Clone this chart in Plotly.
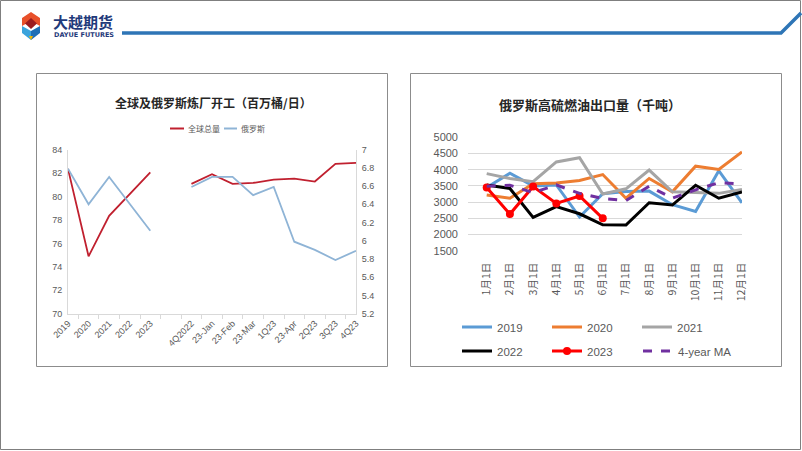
import plotly.graph_objects as go

W, H = 802, 451

# ---------------- data: left chart ----------------
annual = ["2019", "2020", "2021", "2022", "2023"]
quarterly = ["4Q2022", "23-Jan", "23-Feb", "23-Mar", "1Q23", "23-Apr", "2Q23", "3Q23", "4Q23"]
global_annual = [82.35, 74.9, 78.35, 80.2, 82.05]
global_q = [81.07, 81.9, 81.07, 81.15, 81.44, 81.52, 81.27, 82.78, 82.86]
russia_annual = [6.79, 6.40, 6.70, 6.41, 6.11]
russia_q = [6.59, 6.70, 6.70, 6.50, 6.59, 5.99, 5.90, 5.79, 5.89]
left_names = ["全球总量", "俄罗斯"]

# ---------------- data: right chart ----------------
months = ["1月1日", "2月1日", "3月1日", "4月1日", "5月1日", "6月1日",
          "7月1日", "8月1日", "9月1日", "10月1日", "11月1日", "12月1日"]
y2019 = [3450, 3890, 3500, 3530, 2540, 3260, 3330, 3340, 2920, 2710, 3970, 2980]
y2020 = [3220, 3120, 3570, 3590, 3670, 3850, 3120, 3730, 3320, 4110, 4010, 4550]
y2021 = [3880, 3730, 3630, 4240, 4370, 3250, 3410, 3990, 3320, 3300, 3270, 3390]
y2022 = [3530, 3420, 2530, 2860, 2640, 2300, 2290, 2980, 2910, 3520, 3120, 3310]
y2023 = [3450, 2630, 3480, 2960, 3190, 2500]
ma4 = [3490, 3520, 3290, 3530, 3270, 3110, 3050, 3490, 3120, 3380, 3600, 3560]


def px(x):
    return x / W


def py(y):
    return 1 - y / H


fig = go.Figure()

# ---------- left chart traces ----------
xcats = annual + [" "] + quarterly
fig.add_trace(go.Scatter(
    x=xcats, y=global_annual + [None] + global_q, name=left_names[0],
    mode="lines", line=dict(color="#C0202F", width=1.8), xaxis="x", yaxis="y",
    showlegend=False))
fig.add_trace(go.Scatter(
    x=xcats, y=russia_annual + [None] + russia_q, name=left_names[1],
    mode="lines", line=dict(color="#8FB4D6", width=1.8), xaxis="x", yaxis="y2",
    showlegend=False))

# ---------- right chart traces ----------
series = [
    ("2019", y2019, "#5B9BD5", "solid", "legend2"),
    ("2020", y2020, "#ED7D31", "solid", "legend2"),
    ("2021", y2021, "#A5A5A5", "solid", "legend2"),
    ("2022", y2022, "#000000", "solid", "legend3"),
]
for name, vals, col, dash, lg in series:
    fig.add_trace(go.Scatter(x=months, y=vals, name=name, mode="lines",
                             line=dict(color=col, width=3, dash=dash),
                             xaxis="x3", yaxis="y3", legend=lg))
fig.add_trace(go.Scatter(x=months[:len(y2023)], y=y2023, name="2023", mode="lines+markers",
                         line=dict(color="#FF0000", width=3),
                         marker=dict(color="#FF0000", size=8),
                         xaxis="x3", yaxis="y3", legend="legend3"))
fig.add_trace(go.Scatter(x=months, y=ma4, name="4-year MA", mode="lines",
                         line=dict(color="#7030A0", width=3, dash="dash"),
                         xaxis="x3", yaxis="y3", legend="legend4"))

tick_font_left = dict(family="Liberation Sans Narrow, Arial Narrow, sans-serif", size=9, color="#595959")
axis_grey = "#D9D9D9"

# ---------- shapes ----------
shapes = []
# slide border
shapes.append(dict(type="rect", xref="paper", yref="paper",
                   x0=px(0.5), x1=px(800.5), y0=py(0.5), y1=py(449.5),
                   line=dict(color="#7F7F7F", width=1)))
# header line
shapes.append(dict(type="path", xref="paper", yref="paper",
                   path=f"M {px(122)} {py(33)} L {px(781)} {py(33)} L {px(801)} {py(13)}",
                   line=dict(color="#2E75B6", width=3.5)))
# chart boxes
for (x0, x1) in [(36.5, 387.5), (410.5, 781.5)]:
    shapes.append(dict(type="rect", xref="paper", yref="paper",
                       x0=px(x0), x1=px(x1), y0=py(73.5), y1=py(366.5),
                       line=dict(color="#8C8C8C", width=1)))


def poly(pts, color):
    d = "M " + " L ".join(f"{px(a)} {py(b)}" for a, b in pts) + " Z"
    return dict(type="path", xref="paper", yref="paper", path=d,
                fillcolor=color, line=dict(width=0))


# logo
shapes.append(poly([(31, 12), (40, 18), (40, 26), (31, 21), (22, 26), (22, 18)], "#E8502A"))
shapes.append(poly([(31, 18), (37, 23.5), (31, 29), (25, 23.5)], "#9B1B1F"))
shapes.append(poly([(22, 26), (31, 31), (31, 40), (22, 33)], "#3BA3DC"))
shapes.append(poly([(40, 26), (31, 31), (31, 40), (40, 33)], "#1F6FB5"))
shapes.append(poly([(29, 36), (33, 36), (31, 40)], "#F5B800"))

# left legend (manual, small samples)
shapes.append(dict(type="line", xref="paper", yref="paper",
                   x0=px(170), x1=px(184), y0=py(128.5), y1=py(128.5),
                   line=dict(color="#C0202F", width=2)))
shapes.append(dict(type="line", xref="paper", yref="paper",
                   x0=px(224), x1=px(237), y0=py(128.5), y1=py(128.5),
                   line=dict(color="#8FB4D6", width=2)))

annotations = [
    dict(text="大越期货", x=px(51), y=py(21.5), xref="paper", yref="paper",
         xanchor="left", yanchor="middle", showarrow=False,
         font=dict(family="Noto Sans CJK SC", size=15, color="#1F3A7A", weight="bold")),
    dict(text="DAYUE FUTURES", x=px(52), y=py(34.5), xref="paper", yref="paper",
         xanchor="left", yanchor="middle", showarrow=False,
         font=dict(family="DejaVu Sans", size=6.5, color="#1F3A7A", weight="bold")),
    dict(text="全球及俄罗斯炼厂开工（百万桶/日）", x=px(214), y=py(102), xref="paper", yref="paper",
         xanchor="center", yanchor="middle", showarrow=False,
         font=dict(family="Noto Sans CJK SC", size=12, color="#262626", weight="bold")),
    dict(text=left_names[0], x=px(186), y=py(128.5), xref="paper", yref="paper",
         xanchor="left", yanchor="middle", showarrow=False,
         font=dict(family="Noto Sans CJK SC", size=8, color="#595959")),
    dict(text=left_names[1], x=px(239), y=py(128.5), xref="paper", yref="paper",
         xanchor="left", yanchor="middle", showarrow=False,
         font=dict(family="Noto Sans CJK SC", size=8, color="#595959")),
    dict(text="俄罗斯高硫燃油出口量（千吨）", x=px(590), y=py(105), xref="paper", yref="paper",
         xanchor="center", yanchor="middle", showarrow=False,
         font=dict(family="Noto Sans CJK SC", size=13, color="#262626", weight="bold")),
]

legend_common = dict(orientation="h", xanchor="left", yanchor="middle",
                     entrywidth=45, entrywidthmode="pixels", itemwidth=30,
                     bgcolor="rgba(0,0,0,0)", borderwidth=0,
                     font=dict(family="Liberation Sans", size=11.5, color="#595959"),
                     tracegroupgap=0)
legend_ma = dict(legend_common)
legend_ma.pop("entrywidth")
legend_ma.pop("entrywidthmode")

fig.update_layout(
    width=W, height=H,
    margin=dict(l=0, r=0, t=0, b=0, autoexpand=False),
    paper_bgcolor="white", plot_bgcolor="rgba(0,0,0,0)",
    shapes=shapes, annotations=annotations,
    showlegend=True,
    legend2=dict(x=px(457), y=py(327), **legend_common),
    legend3=dict(x=px(457), y=py(351), **legend_common),
    legend4=dict(x=px(638), y=py(351), **legend_ma),
    xaxis=dict(domain=[px(68), px(356)], type="category",
               categoryorder="array", categoryarray=xcats,
               tickangle=-45, tickfont=tick_font_left,
               showline=True, linecolor=axis_grey, linewidth=1,
               ticks="outside", tickson="boundaries", ticklen=4, tickcolor=axis_grey,
               showgrid=False, zeroline=False, anchor="y", fixedrange=True),
    yaxis=dict(domain=[py(313.8), py(149.5)], range=[70, 84], dtick=2, tick0=70,
               tickfont=tick_font_left, showline=True, linecolor=axis_grey,
               showgrid=False, zeroline=False, ticks="", ticklabelstandoff=3,
               anchor="x"),
    yaxis2=dict(overlaying="y", side="right", range=[5.2, 7.0005], dtick=0.2, tick0=5.2,
                tickfont=tick_font_left, showline=True, linecolor=axis_grey,
                showgrid=False, zeroline=False, ticks="", ticklabelstandoff=3,
                anchor="x"),
    xaxis3=dict(domain=[px(468), px(742)], type="category",
                categoryorder="array", categoryarray=months,
                tickangle=-90,
                tickfont=dict(family="Noto Sans CJK SC", size=10.5, color="#595959"),
                showline=False, showgrid=False, zeroline=False, ticks="",
                ticklabelstandoff=9, anchor="y3"),
    yaxis3=dict(domain=[py(250.7), py(137.3)], range=[1500, 5000.5], dtick=500, tick0=1500,
                tickfont=dict(family="Liberation Sans", size=11, color="#595959"),
                showgrid=True, gridcolor=axis_grey, gridwidth=1,
                showline=False, zeroline=False, ticks="", ticklabelstandoff=9,
                anchor="x3"),
)

fig.write_html("out.html")
